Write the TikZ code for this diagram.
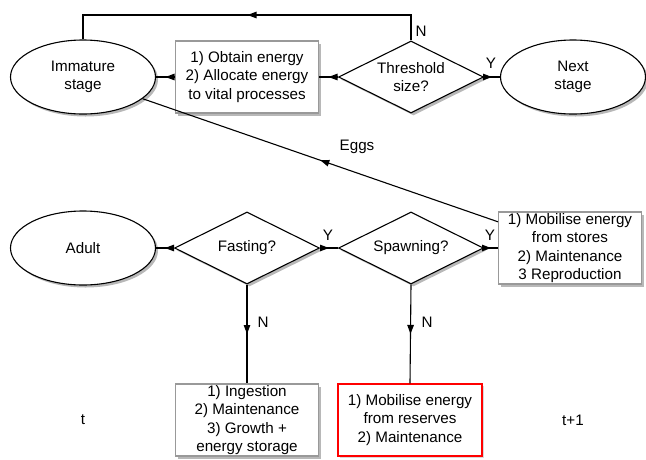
\documentclass[tikz,border=0pt]{standalone}
\usepackage{fontspec}
\setmainfont{Liberation Sans}
\usetikzlibrary{shapes.geometric,shadows,decorations.markings,arrows.meta}
\begin{document}
\begin{tikzpicture}[x=1pt,y=-1pt,
  every node/.style={font={\fontsize{15.2}{18.6}\selectfont}},
  shad/.style={drop shadow={shadow xshift=2.5pt,shadow yshift=-2.5pt,fill=black!28,opacity=1}},
  ell/.style={ellipse,draw=black,line width=1.1pt,fill=white,minimum width=145pt,minimum height=74pt,inner sep=0pt,align=center,shad},
  dia/.style={diamond,draw=black,line width=1.1pt,fill=white,shape aspect=2,minimum width=145pt,minimum height=72pt,inner sep=0pt,align=center,shad},
  gbox/.style={rectangle,draw=black!40,line width=1.1pt,fill=white,minimum width=143pt,minimum height=72pt,inner sep=1pt,align=center,shad},
  rbox/.style={rectangle,draw=red,line width=1.3pt,fill=white,minimum width=144pt,minimum height=72pt,inner sep=1pt,align=center,drop shadow={shadow xshift=2pt,shadow yshift=-2pt,fill=black!15,opacity=1}},
  conn/.style={draw=black,line width=1.1pt,postaction={decorate},decoration={markings,mark=at position 0.5 with {\arrow{Triangle[length=9pt,width=6.5pt]}}}},
  lbl/.style={inner sep=0pt}
]
\useasboundingbox (0,0) rectangle (646,459);
% top row
\node[ell] (imm) at (83,77) {Immature\\stage};
\node[gbox] (obt) at (247,77) {1) Obtain energy\\2) Allocate energy\\to vital processes};
\node[dia] (thr) at (411,77) {Threshold\\size?};
\node[ell] (nxt) at (573,77) {Next\\stage};
% bottom row
\node[ell] (adu) at (83,248) {Adult};
\node[dia] (fas) at (247,248) {Fasting?};
\node[dia] (spa) at (411,248) {Spawning?};
\node[gbox] (mob) at (570,248) {1) Mobilise energy\\from stores\\2) Maintenance\\3 Reproduction};
\node[gbox] (ing) at (247,420) {1) Ingestion\\2) Maintenance\\3) Growth +\\energy storage};
\node[rbox] (res) at (410,420) {1) Mobilise energy\\from reserves\\2) Maintenance};
% connectors
\path[conn] (obt.west) -- (imm.east);
\path[conn] (thr.west) -- (obt.east);
\path[conn] (thr.east) -- (nxt.west);
\coordinate (loop) at (0,15);
\path[conn] (thr.north) -- (thr.north |- loop) -| (imm.north);
\path[conn] (mob.160) -- (imm.-20);
\path[conn] (fas.west) -- (adu.east);
\path[conn] (fas.east) -- (spa.west);
\path[conn] (spa.east) -- (mob.west);
\path[conn] (fas.south) -- (ing.north);
\path[conn] (spa.south) -- (res.north);
% labels
\node[lbl] (lN1) at (421,31) {N};
\node[lbl] (lY1) at (491,63) {Y};
\node[lbl] (lY2) at (328,235) {Y};
\node[lbl] (lY3) at (490,235) {Y};
\node[lbl] (lN2) at (263,322) {N};
\node[lbl] (lN3) at (427,322) {N};
\node[lbl] (egg) at (357,147) {Eggs};
\node[lbl] (t0) at (83,420) {t};
\node[lbl] (t1) at (573,420) {t+1};
\end{tikzpicture}
\end{document}
